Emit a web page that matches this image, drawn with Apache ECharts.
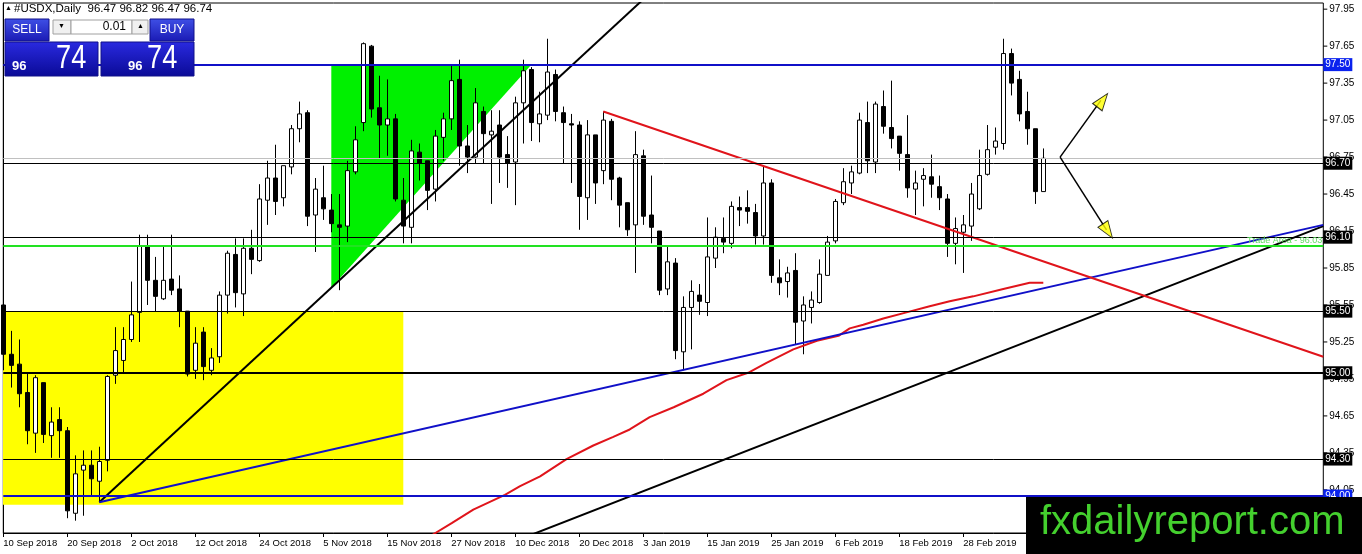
<!DOCTYPE html>
<html>
<head>
<meta charset="utf-8">
<script src="https://cdn.jsdelivr.net/npm/echarts@6/dist/echarts.min.js"></script>
<style>
html,body{margin:0;padding:0;background:#fff;}
#chart{width:1362px;height:554px;}
</style>
</head>
<body>
<div id="chart"></div>
<script>
// ---- Data ----
const tickLabels = ['10 Sep 2018','20 Sep 2018','2 Oct 2018','12 Oct 2018','24 Oct 2018','5 Nov 2018','15 Nov 2018','27 Nov 2018','10 Dec 2018','20 Dec 2018','3 Jan 2019','15 Jan 2019','25 Jan 2019','6 Feb 2019','18 Feb 2019','28 Feb 2019'];
const yTicks = [94.05,94.35,94.65,94.95,95.25,95.55,95.85,96.15,96.45,96.75,97.05,97.35,97.65,97.95];

const open = [95.55,95.15,95.07,94.84,94.51,94.92,94.49,94.62,94.53,93.86,94.21,94.25,94.12,94.29,94.98,95.10,95.27,95.49,96.03,95.75,
95.60,95.76,95.68,95.50,95.02,95.33,95.02,95.13,95.63,95.96,95.64,96.01,95.91,96.40,96.58,96.42,96.67,96.98,97.11,96.28,
96.42,96.32,96.20,96.19,96.63,97.03,97.65,97.15,97.01,97.06,96.40,96.18,96.79,96.72,96.49,96.91,97.06,97.38,96.84,96.75,
97.12,96.93,97.01,96.77,96.71,97.19,97.46,97.02,97.09,97.42,97.11,97.02,97.01,96.42,96.93,96.64,97.04,96.58,96.38,96.20,
96.76,96.28,96.15,95.68,95.89,95.17,95.53,95.63,95.57,95.93,96.09,96.05,96.34,96.34,96.30,96.11,96.54,95.77,95.74,95.83,
95.42,95.53,95.57,95.79,96.07,96.38,96.54,96.62,97.03,96.71,97.16,96.99,96.92,96.77,96.49,96.57,96.59,96.51,96.41,96.05,
96.14,96.19,96.33,96.61,96.83,96.86,97.59,97.38,97.12,96.98,96.47];
const high = [95.57,95.34,95.27,94.99,94.98,94.92,94.72,94.72,94.56,94.33,94.37,94.37,94.40,94.98,95.37,95.37,95.74,96.12,96.12,95.94,
96.03,96.12,95.79,95.50,95.37,95.37,95.20,95.66,95.99,96.09,96.09,96.16,96.53,96.72,96.85,96.68,97.01,97.20,97.13,96.58,
96.68,96.45,96.45,96.72,97.00,97.68,97.66,97.41,97.38,97.10,96.58,96.89,96.86,96.72,96.97,97.11,97.50,97.54,97.01,97.31,
97.16,97.13,97.13,96.92,97.24,97.54,97.48,97.28,97.71,97.46,97.16,97.10,97.04,97.05,96.93,97.12,97.06,96.59,96.38,96.96,
96.81,96.60,96.15,96.03,95.93,95.62,95.75,95.72,96.26,96.18,96.26,96.39,96.43,96.48,96.37,96.67,96.57,95.92,95.86,95.97,
95.62,95.66,95.92,96.11,96.41,96.66,96.68,97.11,97.20,97.20,97.29,97.37,96.92,97.09,96.64,96.66,96.77,96.60,96.45,96.26,
96.28,96.54,96.81,97.01,96.99,97.71,97.63,97.45,97.28,96.98,96.82];
const low = [95.02,94.88,94.72,94.42,94.35,94.43,94.31,94.31,93.82,93.80,93.84,94.00,93.96,94.20,94.91,95.00,95.25,95.25,95.55,95.50,
95.59,95.63,95.37,94.97,94.95,94.94,94.98,95.08,95.48,95.53,95.46,95.80,95.90,96.20,96.28,96.35,96.61,96.87,96.19,95.98,
96.24,96.14,95.67,96.06,96.61,96.96,97.07,96.74,96.76,96.39,96.05,96.05,96.56,96.32,96.39,96.72,96.97,96.68,96.62,96.70,
96.70,96.37,96.54,96.50,96.36,96.86,96.88,96.87,97.05,97.04,96.70,96.54,96.16,96.24,96.37,96.53,96.40,96.18,96.11,95.81,
96.20,96.05,95.63,95.63,95.11,95.02,95.19,95.47,95.46,95.85,95.97,96.01,96.19,96.21,96.04,96.04,95.73,95.63,95.61,95.23,
95.15,95.40,95.56,95.79,96.05,96.36,96.45,96.61,96.62,96.62,96.94,96.82,96.64,96.42,96.28,96.35,96.42,96.32,95.94,95.88,
95.81,96.07,96.32,96.60,96.77,96.81,97.25,97.04,96.85,96.37,96.47];
const close = [95.15,95.06,94.83,94.53,94.96,94.50,94.60,94.53,93.88,94.18,94.25,94.14,94.28,94.97,95.18,95.27,95.47,96.03,95.75,95.62,
95.75,95.67,95.50,94.99,95.24,95.05,95.12,95.63,95.97,95.65,96.01,95.92,96.41,96.58,96.39,96.68,96.98,97.10,96.27,96.49,
96.33,96.21,96.18,96.64,96.89,97.67,97.14,97.01,97.06,96.41,96.19,96.80,96.70,96.48,96.92,97.06,97.37,96.84,96.75,97.19,
96.94,96.96,96.75,96.70,97.19,97.45,97.03,97.10,97.44,97.12,97.03,97.01,96.43,96.93,96.54,97.05,96.57,96.36,96.16,96.77,
96.27,96.18,95.67,95.90,95.18,95.53,95.66,95.58,95.94,96.10,96.06,96.35,96.32,96.31,96.11,96.54,95.79,95.73,95.81,95.41,
95.55,95.59,95.80,96.06,96.39,96.55,96.63,97.05,96.72,97.18,97.00,96.90,96.78,96.50,96.54,96.60,96.53,96.42,96.05,96.17,
96.20,96.45,96.60,96.81,96.88,97.59,97.35,97.10,96.98,96.47,96.74];

// moving-average curve: [bar index, price]
const maPoints = [[53.5,93.67],[53.75,93.69],[56.05,93.78],[58.75,93.89],[62.7,94.01],[64.6,94.08],[67.1,94.16],[70.4,94.30],[73.75,94.41],
[76.25,94.48],[78.3,94.54],[80.8,94.64],[83.8,94.72],[87.5,94.83],[90.4,94.94],[93.1,95.00],[95.4,95.08],[98.75,95.19],
[101.7,95.26],[104.4,95.30],[105.8,95.36],[107.5,95.39],[110,95.44],[112.9,95.49],[115.8,95.54],[118.3,95.58],[121.25,95.62],
[125,95.68],[128.3,95.73],[130,95.73]];

// trend lines: [bar index, price] end points
const trendBlackUpper = [[12,93.95],[80,98.03]];
const trendBlackLower = [[65,93.66],[165,96.19]];
const trendBlue = [[12,93.95],[165,96.20]];
const trendRed = [[75,97.12],[165,95.13]];

// shapes
const yellowBox = [[-1,95.50],[50,95.50],[50,93.93],[-1,93.93]];
const greenTriangle = [[41,97.50],[66,97.50],[41,95.69]];

// arrows: shaft start, shaft ends, head centre + rotation (deg)
const arrowStart = [132.1,96.75];
const arrowUpEnd = [137.2,97.21];
const arrowDownEnd = [137.9,96.16];
const arrowHeads = [[137.4,97.21,-37],[138.05,96.15,-146]];

// horizontal levels
const levelPrices = [97.50,96.74,96.70,96.10,96.03,95.50,95.00,94.30,94.00];
const levelColors = ['#1010c8','#c0c0c0','#000000','#000000','#22e222','#000000','#000000','#000000','#1010c8'];
const levelWidths = [2,1,1,1,2,1,2,1,2];
const levelBoxes  = ['#0a22ee',null,'#000000','#000000',null,'#000000','#000000','#000000','#0a22ee'];

const NSLOT = 166;
const cats = Array.from({length:NSLOT},(_,i)=>String(i));
const candleData = open.map((o,i)=>[o, close[i], low[i], high[i]]);

const FONT = '"Liberation Sans", Arial, sans-serif';

const markData = levelPrices.map((p,i)=>{
  const item = {yAxis:p, lineStyle:{color:levelColors[i], width:levelWidths[i], type:'solid'}};
  if (levelBoxes[i]) {
    item.label = {show:true, position:'end', distance:0, formatter:p.toFixed(2), color:'#fff',
      backgroundColor:levelBoxes[i], padding:[2,2,1,2], fontSize:10, fontFamily:FONT};
  } else if (p === 96.03) {
    item.label = {show:true, position:'insideEndTop', distance:1, formatter:'Trade Area - 96.03',
      color:'#5fdc5f', fontSize:9, fontFamily:FONT};
  } else {
    item.label = {show:false};
  }
  return item;
});

const polys = [{pts:yellowBox, fill:'#ffff00'},{pts:greenTriangle, fill:'#00f000'}];

const chart = echarts.init(document.getElementById('chart'), null, {renderer:'canvas'});
const blueGrad = (a,b)=>({type:'linear',x:0,y:0,x2:0,y2:1,colorStops:[{offset:0,color:a},{offset:1,color:b}]});

chart.setOption({
  animation:false,
  backgroundColor:'#ffffff',
  grid:{left:3.3, top:3, width:1320, height:530, show:true, borderColor:'#000', borderWidth:1, backgroundColor:'transparent'},
  xAxis:[{
    type:'category', data:cats, boundaryGap:false,
    axisLine:{show:true, lineStyle:{color:'#000', width:1}},
    axisTick:{show:true, length:4, lineStyle:{color:'#000'}, interval:(i)=> i%8===0 && i/8 < tickLabels.length},
    axisLabel:{show:true, interval:0, align:'left', margin:5, color:'#000', fontSize:9.5, fontFamily:FONT,
      formatter:(v,i)=> (i%8===0 && i/8 < tickLabels.length) ? tickLabels[i/8] : ''},
    splitLine:{show:false}
  },{
    type:'value', min:0, max:NSLOT-1, show:false, splitLine:{show:false}
  }],
  yAxis:{
    type:'value', position:'right', min:93.70, max:98.00, scale:true,
    axisLine:{show:true, lineStyle:{color:'#000', width:1}},
    axisTick:{show:false},
    axisLabel:{show:true, customValues:yTicks, margin:6, color:'#000', fontSize:10, fontFamily:FONT,
      formatter:(v)=>Number(v).toFixed(2)},
    splitLine:{show:false}, minorTick:{show:false}, minorSplitLine:{show:false}
  },
  series:[
    {
      type:'custom', xAxisIndex:1, yAxisIndex:0, z:1, clip:true, silent:true,
      data:polys.map((p,i)=>[i, 95]),
      renderItem:(params, api)=>{
        const p = polys[params.dataIndex];
        return {type:'polygon', shape:{points:p.pts.map(pt=>api.coord(pt))}, style:{fill:p.fill}};
      }
    },
    {
      // price-axis tick marks, drawn just right of the axis line
      type:'custom', xAxisIndex:1, yAxisIndex:0, z:2, clip:false, silent:true,
      data:yTicks.map(v=>[NSLOT-1, v]),
      renderItem:(params, api)=>{
        const p = api.coord([api.value(0), api.value(1)]);
        return {type:'line', shape:{x1:p[0], y1:p[1], x2:p[0]+4, y2:p[1]}, style:{stroke:'#000', lineWidth:1}};
      }
    },
    {
      type:'candlestick', xAxisIndex:0, yAxisIndex:0, z:3, barWidth:5, clip:true,
      data:candleData,
      itemStyle:{color:'#ffffff', color0:'#000000', borderColor:'#000000', borderColor0:'#000000', borderWidth:1},
      markLine:{symbol:'none', silent:true, animation:false, data:markData}
    },
    {type:'line', xAxisIndex:1, data:maPoints, showSymbol:false, z:4, clip:true, lineStyle:{color:'#e0141b', width:2}},
    {type:'line', xAxisIndex:1, data:trendBlackUpper, showSymbol:false, z:4, clip:true, lineStyle:{color:'#000', width:2}},
    {type:'line', xAxisIndex:1, data:trendBlackLower, showSymbol:false, z:4, clip:true, lineStyle:{color:'#000', width:2}},
    {type:'line', xAxisIndex:1, data:trendBlue, showSymbol:false, z:4, clip:true, lineStyle:{color:'#1010c8', width:2}},
    {type:'line', xAxisIndex:1, data:trendRed, showSymbol:false, z:4, clip:true, lineStyle:{color:'#e0141b', width:2}},
    {type:'line', xAxisIndex:1, data:[arrowStart, arrowUpEnd], showSymbol:false, z:5, lineStyle:{color:'#000', width:1.5}},
    {type:'line', xAxisIndex:1, data:[arrowStart, arrowDownEnd], showSymbol:false, z:5, lineStyle:{color:'#000', width:1.5}},
    {type:'scatter', xAxisIndex:1, z:6, symbol:'triangle', symbolSize:[12,17],
      itemStyle:{color:'#ffff00', borderColor:'#000', borderWidth:1},
      data:arrowHeads.map(a=>({value:[a[0],a[1]], symbolRotate:a[2]}))}
  ],
  graphic:[
    {type:'text', x:5, y:5, z:100, style:{text:'▲', font:'7px '+FONT, fill:'#000'}},
    {type:'text', x:14, y:3, z:100, style:{text:'#USDX,Daily  96.47 96.82 96.47 96.74', font:'11.5px '+FONT, fill:'#000'}},
    // SELL / BUY panel
    {type:'rect', z:100, shape:{x:5,y:19,width:44,height:22}, style:{fill:blueGrad('#3f50e6','#1a1ab4'), stroke:'#10108a', lineWidth:1}},
    {type:'rect', z:100, shape:{x:150,y:19,width:44,height:22}, style:{fill:blueGrad('#3f50e6','#1a1ab4'), stroke:'#10108a', lineWidth:1}},
    {type:'rect', z:100, shape:{x:5,y:42,width:93,height:34}, style:{fill:blueGrad('#2a2ae0','#0a0a96'), stroke:'#10108a', lineWidth:1}},
    {type:'rect', z:100, shape:{x:101,y:42,width:93,height:34}, style:{fill:blueGrad('#2a2ae0','#0a0a96'), stroke:'#10108a', lineWidth:1}},
    {type:'rect', z:100, shape:{x:53,y:20,width:18,height:14}, style:{fill:'#f0f0f0', stroke:'#a0a0a0', lineWidth:1}},
    {type:'rect', z:100, shape:{x:71,y:20,width:61,height:14}, style:{fill:'#ffffff', stroke:'#a0a0a0', lineWidth:1}},
    {type:'rect', z:100, shape:{x:132,y:20,width:16,height:14}, style:{fill:'#f0f0f0', stroke:'#a0a0a0', lineWidth:1}},
    {type:'text', z:101, x:58, y:23, style:{text:'▼', font:'7px '+FONT, fill:'#000'}},
    {type:'text', z:101, x:137, y:23, style:{text:'▲', font:'7px '+FONT, fill:'#000'}},
    {type:'text', z:101, x:126, y:27, style:{text:'0.01', font:'12px '+FONT, fill:'#000', align:'right', verticalAlign:'middle'}},
    {type:'text', z:101, x:27, y:30, style:{text:'SELL', font:'12px '+FONT, fill:'#fff', align:'center', verticalAlign:'middle'}},
    {type:'text', z:101, x:172, y:30, style:{text:'BUY', font:'12px '+FONT, fill:'#fff', align:'center', verticalAlign:'middle'}},
    {type:'text', z:101, x:12, y:66, style:{text:'96', font:'bold 13px '+FONT, fill:'#fff', verticalAlign:'middle'}},
    {type:'text', z:101, x:56, y:59, scaleX:0.8, style:{text:'74', font:'34px '+FONT, fill:'#fff', verticalAlign:'middle'}},
    {type:'text', z:101, x:128, y:66, style:{text:'96', font:'bold 13px '+FONT, fill:'#fff', verticalAlign:'middle'}},
    {type:'text', z:101, x:147, y:59, scaleX:0.8, style:{text:'74', font:'34px '+FONT, fill:'#fff', verticalAlign:'middle'}},
    // watermark
    {type:'rect', z:100, shape:{x:1026,y:497,width:336,height:57}, style:{fill:'#000'}},
    {type:'text', z:101, x:1040, y:523, style:{text:'fxdailyreport.com', font:'40px '+FONT, fill:'#44d02e', verticalAlign:'middle'}}
  ]
});
</script>
</body>
</html>
